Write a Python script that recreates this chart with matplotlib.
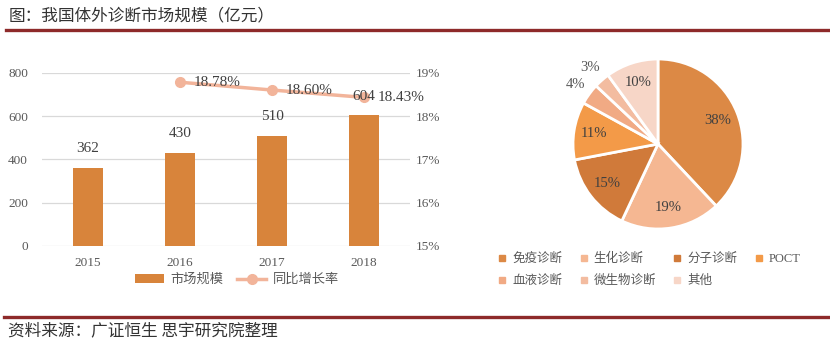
import matplotlib
matplotlib.use('Agg')
import matplotlib.pyplot as plt
from matplotlib.lines import Line2D
import numpy as np

plt.rcParams['font.family'] = ['Liberation Serif', 'Noto Sans CJK SC']
plt.rcParams['axes.unicode_minus'] = False

# 数据
years = ['2015', '2016', '2017', '2018']
market_size = [362, 430, 510, 604]
growth_years = ['2016', '2017', '2018']
growth_rate = [18.78, 18.60, 18.43]

seg_names = ['免疫诊断', '生化诊断', '分子诊断', 'POCT', '血液诊断', '微生物诊断', '其他']
seg_share = [38, 19, 15, 11, 4, 3, 10]
seg_colors = ['#DC8945', '#F5B792', '#D07A3A', '#F39A48', '#F1AA84', '#F3BCA0', '#F7D6C7']

bar_color = '#D8843B'
line_color = '#F2B49A'
grey = '#595959'
dark = '#404040'
red = '#8E2A2A'

fig = plt.figure(figsize=(8.3, 3.48), dpi=100)
W, H = 830, 348

def fx(px):
    return px / W

def fy(py):
    return 1 - py / H

# 标题和上下红线
fig.text(fx(9), fy(16), '图：我国体外诊断市场规模（亿元）', fontsize=12, color='#333333',
         ha='left', va='center', family=['Noto Sans CJK SC'])
fig.add_artist(Line2D([fx(6), 1], [fy(30), fy(30)], color=red, lw=2.4))
fig.add_artist(Line2D([fx(4), 1], [fy(317), fy(317)], color=red, lw=2.4))
fig.text(fx(8), fy(331), '资料来源：广证恒生 思宇研究院整理', fontsize=12, color='#333333',
         ha='left', va='center', family=['Noto Sans CJK SC'])

# 柱状图 + 折线
ax = fig.add_axes([fx(42), fy(246), fx(410) - fx(42), fy(72.7) - fy(246)])
x = np.arange(len(years))
ax.bar(x, market_size, width=0.32, color=bar_color, zorder=2, label='市场规模')
ax.set_ylim(0, 800)
ax.set_yticks([0, 200, 400, 600, 800])
ax.set_xlim(-0.5, 3.5)
ax.set_xticks(x)
ax.set_xticklabels(years)
ax.grid(axis='y', color='#D9D9D9', lw=0.9, zorder=0)
ax.tick_params(length=0, labelsize=9.5, colors=grey)
ax.tick_params(axis='y', pad=10)
ax.tick_params(axis='x', pad=8)
for s in ax.spines.values():
    s.set_visible(False)

ax2 = ax.twinx()
gx = [years.index(y) for y in growth_years]
ax2.plot(gx, growth_rate, color=line_color, lw=2.5, marker='o', markersize=7,
         zorder=3, label='同比增长率')
ax2.set_ylim(15, 19)
ax2.set_yticks([15, 16, 17, 18, 19])
ax2.set_yticklabels(['%d%%' % t for t in [15, 16, 17, 18, 19]])
ax2.tick_params(length=0, labelsize=9.5, colors=grey, pad=4)
for s in ax2.spines.values():
    s.set_visible(False)
for xi, v in zip(gx, growth_rate):
    ax2.annotate('%.2f%%' % v, (xi, v), xytext=(9.5, 0), textcoords='offset points',
                 ha='left', va='center', fontsize=11, color=dark, zorder=5)
# 柱子数值标签画在折线之上
for xi, v in zip(x, market_size):
    ax2.annotate(str(v), (xi, v), xycoords=ax.transData, xytext=(0, 9),
                 textcoords='offset points', ha='center', va='bottom',
                 fontsize=11, color=dark, zorder=5)

h1, l1 = ax.get_legend_handles_labels()
h2, l2 = ax2.get_legend_handles_labels()
ax.legend(h1 + h2, l1 + l2, loc='center', bbox_to_anchor=(0.53, -0.196), ncol=2,
          frameon=False, fontsize=9.5, handlelength=2.2, handletextpad=0.5,
          columnspacing=1.0, labelcolor=grey)

# 饼图
pax = fig.add_axes([fx(658 - 85), fy(144 + 85), fx(170), fy(0) - fy(170)])
wedges, _ = pax.pie(seg_share, colors=seg_colors, startangle=90, counterclock=False,
                    radius=1, wedgeprops=dict(edgecolor='white', linewidth=2))
pax.set_xlim(-1, 1)
pax.set_ylim(-1, 1)
for w, v in zip(wedges, seg_share):
    ang = np.deg2rad((w.theta1 + w.theta2) / 2)
    if v < 5:
        d, c = 1.2, grey
    else:
        d, c = 0.76, dark
    pax.text(d * np.cos(ang), d * np.sin(ang), '%d%%' % v, ha='center', va='center',
             fontsize=10.5, color=c)

order = [0, 4, 1, 5, 2, 6, 3]
handles = [Line2D([], [], marker='s', ls='none', markersize=4.5,
                  markerfacecolor=seg_colors[i], markeredgecolor=seg_colors[i]) for i in order]
labels = [seg_names[i] for i in order]
fig.legend(handles, labels, loc='center', bbox_to_anchor=(fx(649), fy(270)), ncol=4,
           frameon=False, fontsize=9, handlelength=0.8, handletextpad=0.4,
           columnspacing=1.3, labelspacing=0.8, labelcolor=grey)

fig.savefig('out.png', dpi=100, facecolor='white')
